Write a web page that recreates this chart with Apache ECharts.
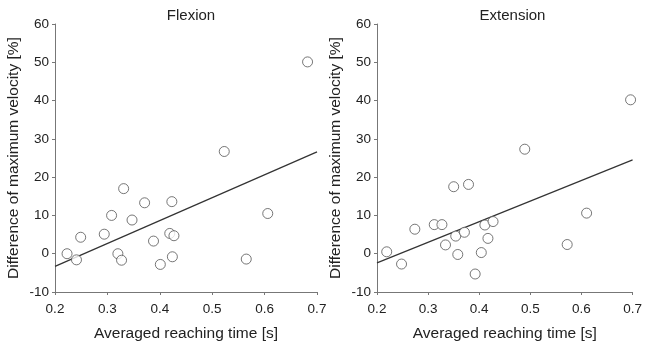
<!DOCTYPE html>
<html>
<head>
<meta charset="utf-8">
<script src="https://cdn.jsdelivr.net/npm/echarts@6/dist/echarts.min.js"></script>
<style>html,body{margin:0;padding:0;background:#fff}#c{width:645px;height:347px}</style>
</head>
<body>
<div id="c"></div>
<script>
const titles = ["Flexion", "Extension"];
const xName = "Averaged reaching time [s]";
const yName = "Difference of maximum velocity [%]";

const flexX = [0.223,0.241,0.249,0.294,0.308,0.320,0.327,0.331,0.347,0.371,0.388,0.401,0.419,0.427,0.423,0.424,0.523,0.565,0.606,0.682];
const flexY = [0.0,-1.6,4.3,5.1,10.0,0.0,-1.7,17.0,8.8,13.3,3.3,-2.8,5.3,4.7,13.6,-0.8,26.7,-1.4,10.5,50.1];
const flexFitX = [0.2, 0.7];
const flexFitY = [-3.3, 26.6];

const extX = [0.219,0.248,0.274,0.312,0.327,0.334,0.350,0.354,0.358,0.371,0.379,0.392,0.404,0.411,0.417,0.427,0.489,0.572,0.610,0.696];
const extY = [0.5,-2.7,6.4,7.6,7.6,2.3,17.5,4.6,-0.2,5.6,18.1,-5.3,0.3,7.5,4.0,8.4,27.3,2.4,10.6,40.2];
const extFitX = [0.2, 0.7];
const extFitY = [-2.4, 24.5];

const zip = (a, b) => a.map((v, i) => [v, b[i]]);
const FONT = "Liberation Sans, Arial, sans-serif";
const grids = [
  {left: 55, top: 24, width: 262, height: 275},
  {left: 377, top: 24, width: 261, height: 275}
];
const centers = grids.map(g => g.left + g.width / 2);

function xAxis(i) {
  return {
    gridIndex: i, type: 'value', min: 0.2, max: 0.7, interval: 0.1,
    name: xName, nameLocation: 'middle', nameGap: 34,
    nameTextStyle: {fontFamily: FONT, fontSize: 15.5, color: '#222'},
    axisLine: {show: true, onZero: false, lineStyle: {color: '#777', width: 1}},
    axisTick: {show: true, inside: false, length: 3, lineStyle: {color: '#777'}},
    axisLabel: {fontFamily: FONT, fontSize: 13.5, color: '#222', margin: 10, formatter: v => v.toFixed(1)},
    splitLine: {show: false}
  };
}
function yAxis(i) {
  return {
    gridIndex: i, type: 'value', min: -10, max: 60, interval: 10,
    name: yName, nameLocation: 'middle', nameGap: 33,
    nameTextStyle: {fontFamily: FONT, fontSize: 15.5, color: '#222'},
    axisLine: {show: true, onZero: false, lineStyle: {color: '#777', width: 1}},
    axisTick: {show: true, inside: false, length: 3, lineStyle: {color: '#777'}},
    axisLabel: {fontFamily: FONT, fontSize: 13.5, color: '#222', margin: 6},
    splitLine: {show: false}
  };
}
function scatter(i, x, y) {
  return {
    type: 'scatter', xAxisIndex: i, yAxisIndex: i, data: zip(x, y),
    symbol: 'circle', symbolSize: 10,
    itemStyle: {color: '#fff', borderColor: '#555', borderWidth: 1},
    silent: true, z: 3
  };
}
function fit(i, x, y) {
  return {
    type: 'line', xAxisIndex: i, yAxisIndex: i, data: zip(x, y),
    symbol: 'none', lineStyle: {color: '#333', width: 1.2},
    silent: true, z: 2
  };
}

const chart = echarts.init(document.getElementById('c'), null, {renderer: 'canvas'});
chart.setOption({
  animation: false,
  backgroundColor: '#fff',
  title: titles.map((t, i) => ({
    text: t, left: centers[i], top: 3, textAlign: 'center',
    textStyle: {fontFamily: FONT, fontSize: 15, fontWeight: 'normal', color: '#222'}
  })),
  grid: grids,
  xAxis: [xAxis(0), xAxis(1)],
  yAxis: [yAxis(0), yAxis(1)],
  series: [
    fit(0, flexFitX, flexFitY), scatter(0, flexX, flexY),
    fit(1, extFitX, extFitY), scatter(1, extX, extY)
  ]
});
</script>
</body>
</html>
